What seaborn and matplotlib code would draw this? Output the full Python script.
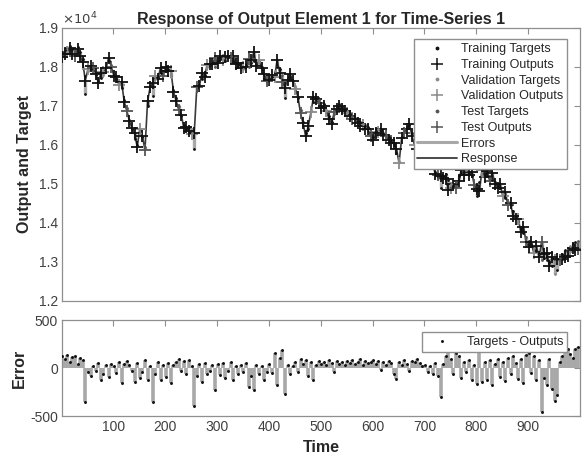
# Response plot for time-series 1 (MATLAB ntstool style)

import numpy as np
import pandas as pd
import matplotlib
matplotlib.use("Agg")
import matplotlib.pyplot as plt
from matplotlib.lines import Line2D
import seaborn as sns

# Data, one value every 5 time steps (t = 1, 6, 11, ...)

targets = [
    18380, 18430, 18520, 18550, 18450, 18400, 18500, 18380, 18200, 17300,
    17900, 17950, 18000, 17800, 17650, 17720, 17800, 18000, 18150, 18050,
    17800, 17700, 17600, 17450, 17150, 16950, 16650, 16400, 16150, 16000,
    16300, 16200, 15950, 17000, 17500, 17250, 17700, 17750, 17850, 17800,
    17900, 17950, 17750, 17400, 17200, 17000, 16750, 16500, 16400, 16450,
    16300, 15900, 17400, 17550, 17700, 17800, 18000, 18050, 18100, 18000,
    18150, 18200, 18220, 18150, 18250, 18280, 18150, 18100, 18050, 18000,
    17950, 18050, 18000, 18100, 18150, 18050, 18120, 18000, 17700, 17600,
    17700, 17750, 17900, 18000, 17950, 17800, 17200, 17700, 17750, 17650,
    17500, 17200, 16900, 16600, 16300, 16400, 16900, 17100, 17200, 17150,
    17000, 17050, 16900, 16750, 16600, 16800, 17000, 17050, 16980, 16900,
    16880, 16800, 16750, 16700, 16620, 16580, 16550, 16480, 16450, 16300,
    16200, 16350, 16400, 16380, 16320, 16250, 16200, 16100, 16000, 15800,
    15600, 16200, 16400, 16450, 16500, 16300, 16050, 16000, 15950, 15900,
    15800, 15700, 15600, 15450, 15300, 15150, 14900, 15200, 15250, 15100,
    15000, 14950, 15050, 15200, 15250, 15300, 15350, 15300, 15200, 15000,
    14700, 15050, 15200, 15250, 15200, 15150, 15100, 15050, 15000, 14900,
    14750, 14650, 14550, 14450, 14300, 14150, 14000, 13850, 13750, 13650,
    13550, 13450, 13350, 13280, 13200, 13050, 13100, 13050, 13000, 12900,
    12700, 12800, 13100, 13200, 13300, 13350, 13400, 13450, 13500, 13550,
]

errors = [
    120, 90, 140, 60, 110, 130, 40, 100, 80, -350,
    -40, -80, 20, -30, 50, -120, -60, 30, -90, 40,
    20, -50, 60, -160, 40, 70, 30, -30, -150, 50,
    -100, -40, 80, -120, 20, -350, -60, 60, -130, 30,
    -90, 50, -160, 30, 60, 90, -30, 70, -60, 80,
    20, -400, -80, 40, -150, 50, -60, -30, 30, -230,
    40, -70, 50, -100, -30, 60, -120, 20, -60, 30,
    -40, 50, -200, -80, -230, 30, -60, 20, -120, -40,
    40, -50, 160, -180, 100, 190, -270, 30, -60, 20,
    60, -40, 90, 40, 80, -80, 60, -120, 30, 70,
    40, 60, 30, 80, 50, -40, 70, 40, 60, 30,
    70, 50, 80, 40, 60, 90, 30, 70, 50, 60,
    80, 40, 70, -20, 60, 30, 70, 50, -60, -110,
    60, 30, 80, 40, -30, 70, 60, 90, 50, 20,
    30, -40, 20, -60, 50, -80, -300, 40, 120, 250,
    90, -60, 160, 120, -100, 60, -40, 80, -120, 30,
    -170, 220, -150, 60, -130, 80, -180, 40, 90, -90,
    60, -140, 100, -60, 130, 50, -110, 90, -160, 140,
    160, -50, 120, -120, 80, -460, -100, -180, 90, -220,
    -340, -280, 60, 120, 180, 200, 150, 100, 200, 220,
]

# which set each sample belongs to: T = training, V = validation, S = test
split = list("TTVTTSTTTTVTSTTTVTTS" * 10)

time = np.arange(len(targets)) * 5 + 1
df = pd.DataFrame({"Time": time, "Target": targets, "Error": errors, "Set": split})
df["Output"] = df["Target"] - df["Error"]

sns.set_style("white")
plt.rcParams["font.family"] = ["Liberation Sans", "DejaVu Sans"]
plt.rcParams["axes.unicode_minus"] = False

set_colors = {"T": "#111111", "V": "#8a8a8a", "S": "#555555"}
set_names = {"T": "Training", "V": "Validation", "S": "Test"}
err_color = "#a8a8a8"
resp_color = "#3a3a3a"
axis_gray = "#8f8f8f"
text_gray = "#404040"

fig = plt.figure(figsize=(5.84, 4.61), dpi=100)
ax1 = fig.add_axes([62 / 584, 1 - 301 / 461, 518 / 584, 273 / 461])
ax2 = fig.add_axes([62 / 584, 1 - 416 / 461, 518 / 584, 96 / 461])

# Main plot
ax1.vlines(df["Time"], df["Target"], df["Output"], color=err_color, lw=2.4, zorder=1)
sns.lineplot(data=df, x="Time", y="Output", ax=ax1, color=resp_color, lw=1.2, zorder=2)
for key in ["V", "S", "T"]:
    sub = df[df["Set"] == key]
    sns.scatterplot(data=sub, x="Time", y="Output", ax=ax1, marker="+", s=75,
                    color=set_colors[key], linewidth=1.3, zorder=3)
    sns.scatterplot(data=sub, x="Time", y="Target", ax=ax1, marker=".", s=16,
                    color=set_colors[key], linewidth=0, zorder=4)

ax1.set_xlim(1, 1000)
ax1.set_ylim(12000, 19000)
ax1.set_xticks([100, 200, 300, 400, 500, 600, 700, 800, 900])
ax1.set_xticklabels([])
yt = [12000, 13000, 14000, 15000, 16000, 17000, 18000, 19000]
ax1.set_yticks(yt)
ax1.set_yticklabels([f"{v / 1e4:.1f}" for v in yt])
ax1.text(0.0, 1.003, r"$\times 10^4$", transform=ax1.transAxes, fontsize=9.5,
         color=text_gray, ha="left", va="bottom")
ax1.set_xlabel("")
ax1.set_ylabel("Output and Target", fontsize=11.5, fontweight="bold", labelpad=5)
ax1.set_title("Response of Output Element 1 for Time-Series 1", fontsize=11.5,
              fontweight="bold", pad=3)

handles = []
for key in ["T", "V", "S"]:
    handles.append(Line2D([], [], ls="none", marker=".", ms=3.5, color=set_colors[key],
                          label=f"{set_names[key]} Targets"))
    handles.append(Line2D([], [], ls="none", marker="+", ms=8, mew=1.1, color=set_colors[key],
                          label=f"{set_names[key]} Outputs"))
handles.append(Line2D([], [], color=err_color, lw=2.2, label="Errors"))
handles.append(Line2D([], [], color=resp_color, lw=1.3, label="Response"))
leg = ax1.legend(handles=handles, loc="upper right", bbox_to_anchor=(0.975, 0.958),
                 borderaxespad=0, fontsize=9, handlelength=3.2, handletextpad=0.3,
                 labelspacing=0.3, fancybox=False, framealpha=1, borderpad=0.3)
leg.get_frame().set_edgecolor(axis_gray)

# Error plot
ax2.vlines(df["Time"], 0, df["Error"], color=err_color, lw=2.6, zorder=1)
sns.scatterplot(data=df, x="Time", y="Error", ax=ax2, marker=".", s=18,
                color="#111111", linewidth=0, zorder=3, label="Targets - Outputs")
ax2.set_xlim(1, 1000)
ax2.set_ylim(-500, 500)
ax2.set_xticks([100, 200, 300, 400, 500, 600, 700, 800, 900])
ax2.set_yticks([-500, 0, 500])
ax2.set_xlabel("Time", fontsize=11.5, fontweight="bold", labelpad=4)
ax2.set_ylabel("Error", fontsize=11.5, fontweight="bold", labelpad=2)
leg2 = ax2.legend(loc="upper right", bbox_to_anchor=(0.975, 0.875), borderaxespad=0,
                  fontsize=9, handlelength=2.6, handletextpad=0.7, fancybox=False,
                  framealpha=1, markerscale=1.0, borderpad=0.3)
leg2.get_frame().set_edgecolor(axis_gray)

for ax in (ax1, ax2):
    for sp in ax.spines.values():
        sp.set_color(axis_gray)
        sp.set_linewidth(0.9)
    ax.tick_params(direction="in", top=True, right=True, length=4, width=0.8,
                   color=axis_gray, labelcolor=text_gray, labelsize=10, pad=3)

fig.savefig("out.png", dpi=100)
